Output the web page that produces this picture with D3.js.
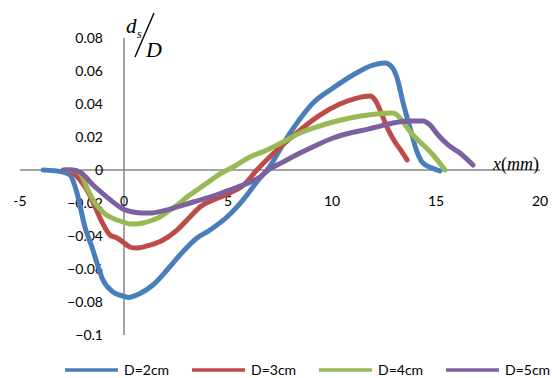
<!DOCTYPE html>
<html lang="en">
<head>
<meta charset="utf-8">
<title>ds/D vs x</title>
<script src="https://cdn.jsdelivr.net/npm/d3@7"></script>
<style>
  body { margin: 0; background: #fff; }
  .tick-label { font-family: Lato, "Open Sans", sans-serif; font-size: 14px; fill: #000; }
  .legend text { font-family: Lato, "Open Sans", sans-serif; font-size: 14px; fill: #000; }
  .eq { font-family: "Liberation Serif", "DejaVu Serif", serif; font-style: italic; fill: #000; }
</style>
</head>
<body>
<script>
// data: [x (mm), ds/D]
var series = ["D=2cm", "D=3cm", "D=4cm", "D=5cm"];
var colors = ["#4a7ebb", "#be4b48", "#98b954", "#7d60a0"];

var d2 = [[-3.89,0],[-2.93,-0.0012],[-2.6,-0.003],[-2.26,-0.0139],[-1.88,-0.0345],[-1.54,-0.0467],
  [-1.3,-0.0564],[-1.01,-0.0667],[-0.53,-0.0739],[-0.05,-0.0764],[0.2,-0.0772],[0.77,-0.0748],
  [1.39,-0.0697],[2.07,-0.0606],[2.69,-0.0515],[3.51,-0.0412],[4.13,-0.0364],[4.95,-0.0285],
  [5.72,-0.0182],[6.54,-0.0048],[6.88,0],[7.98,0.0224],[9.09,0.0406],[10.05,0.0497],
  [11.01,0.0576],[11.97,0.0636],[12.55,0.0648],[12.88,0.0624],[13.13,0.0558],[13.41,0.0412],
  [13.75,0.0255],[14.09,0.0109],[14.37,0.0042],[14.81,0.0012],[15.19,-0.0006]];

var d3cm = [[-2.79,0],[-2.5,-0.0012],[-2.12,-0.006],[-1.78,-0.0121],[-1.39,-0.0224],[-1.06,-0.0315],
  [-0.67,-0.0394],[-0.34,-0.0412],[-0.05,-0.0436],[0.29,-0.0467],[0.63,-0.0473],[1.25,-0.0455],
  [1.88,-0.0424],[2.55,-0.0364],[3.17,-0.0285],[3.65,-0.0224],[4.28,-0.0182],[5.1,-0.0139],
  [5.8,-0.0085],[6.39,0],[7.36,0.0121],[8.46,0.0242],[9.42,0.0333],[10.38,0.04],[11.2,0.0436],
  [11.83,0.0448],[12.07,0.0424],[12.31,0.0364],[12.64,0.0261],[13.03,0.017],[13.37,0.0109],[13.61,0.0061]];

var d4 = [[-2.84,0],[-2.5,0],[-2.12,-0.0018],[-1.73,-0.0121],[-1.39,-0.02],[-1.01,-0.0255],
  [-0.67,-0.0285],[-0.34,-0.0303],[-0.05,-0.0315],[0.29,-0.0327],[0.63,-0.0327],[0.91,-0.0321],
  [1.39,-0.0303],[1.73,-0.0285],[2.21,-0.0242],[2.69,-0.02],[3.03,-0.0164],[3.65,-0.0109],
  [3.99,-0.0079],[4.62,-0.0024],[5.24,0.0018],[6.06,0.0079],[6.88,0.0121],[7.64,0.017],
  [8.46,0.0224],[9.28,0.0261],[10.05,0.0291],[10.87,0.0315],[11.73,0.0333],[12.16,0.0339],
  [12.88,0.0345],[13.13,0.0333],[13.41,0.0291],[13.89,0.0212],[14.38,0.0152],[14.86,0.0091],[15.43,0]];

var d5 = [[-2.93,0],[-2.5,0],[-2.12,-0.0012],[-1.49,-0.0091],[-0.82,-0.0164],[-0.34,-0.0212],
  [-0.05,-0.0236],[0.43,-0.0255],[0.91,-0.0261],[1.25,-0.0261],[1.88,-0.0248],[2.55,-0.0224],
  [3.32,-0.0194],[4.13,-0.0164],[4.95,-0.0127],[5.72,-0.0091],[6.54,-0.0042],[6.88,-0.0006],
  [7.64,0.0048],[8.46,0.0103],[9.28,0.0152],[10.05,0.0194],[10.87,0.0224],[11.73,0.0248],
  [12.16,0.0261],[12.93,0.0285],[13.75,0.0297],[14.38,0.0297],[14.71,0.0273],[15.1,0.0212],
  [15.58,0.0152],[16.15,0.0103],[16.78,0.003]];

var xTicks = [-5, 0, 5, 10, 15, 20];
var yTicks = [-0.1, -0.08, -0.06, -0.04, -0.02, 0, 0.02, 0.04, 0.06, 0.08];
var allData = [d2, d3cm, d4, d5];

var w = 552, h = 378;

var xScale = d3.scaleLinear().domain([-5, 20]).range([20, 540]);
var yScale = d3.scaleLinear().domain([-0.1, 0.08]).range([335, 38]);

var svg = d3.select("body").append("svg")
    .attr("width", w)
    .attr("height", h);

// axes cross at zero
svg.append("line")
   .attr("x1", xScale(-5)).attr("x2", xScale(20))
   .attr("y1", yScale(0)).attr("y2", yScale(0))
   .attr("stroke", "#868686").attr("stroke-width", 1.5);

svg.append("line")
   .attr("x1", xScale(0)).attr("x2", xScale(0))
   .attr("y1", yScale(0.08)).attr("y2", yScale(-0.1))
   .attr("stroke", "#868686").attr("stroke-width", 1.5);

// y tick labels
svg.selectAll(".ylab")
   .data(yTicks)
   .enter()
   .append("text")
   .attr("class", "tick-label")
   .attr("x", 103)
   .attr("y", function(d) { return yScale(d); })
   .attr("dy", "0.35em")
   .attr("text-anchor", "end")
   .text(function(d) { return d === 0 ? "0" : d3.format("")(+d.toFixed(2)); });

// x tick labels
svg.selectAll(".xlab")
   .data(xTicks)
   .enter()
   .append("text")
   .attr("class", "tick-label")
   .attr("x", function(d) { return xScale(d); })
   .attr("y", 206)
   .attr("text-anchor", "middle")
   .text(function(d) { return d; });

// lines
var line = d3.line()
    .x(function(d) { return xScale(d[0]); })
    .y(function(d) { return yScale(d[1]); })
    .curve(d3.curveMonotoneX);

svg.append("g")
   .selectAll("path")
   .data(allData)
   .enter()
   .append("path")
   .attr("d", line)
   .attr("fill", "none")
   .attr("stroke", function(d, i) { return colors[i]; })
   .attr("stroke-width", 5)
   .attr("stroke-linecap", "round")
   .attr("stroke-linejoin", "round");

// axis titles
var yt = svg.append("g");
yt.append("text").attr("class", "eq").attr("x", 126).attr("y", 33).attr("font-size", 21).text("d");
yt.append("text").attr("class", "eq").attr("x", 137).attr("y", 38).attr("font-size", 12).text("s");
yt.append("line")
  .attr("x1", 135).attr("y1", 57).attr("x2", 154).attr("y2", 13)
  .attr("stroke", "#000").attr("stroke-width", 1.4);
yt.append("text").attr("class", "eq").attr("x", 146).attr("y", 57).attr("font-size", 22).text("D");

var xt = svg.append("text").attr("class", "eq").attr("x", 493).attr("y", 170).attr("font-size", 18);
xt.append("tspan").text("x");
xt.append("tspan").attr("font-style", "normal").text("(");
xt.append("tspan").text("mm");
xt.append("tspan").attr("font-style", "normal").text(")");

// legend
var legX = [65, 192, 319, 446];
var legend = svg.append("g").attr("class", "legend");
var items = legend.selectAll("g")
    .data(series)
    .enter()
    .append("g")
    .attr("transform", function(d, i) { return "translate(" + legX[i] + ",370)"; });
items.append("line")
     .attr("x1", 0).attr("x2", 53)
     .attr("stroke", function(d, i) { return colors[i]; })
     .attr("stroke-width", 3.5);
items.append("text")
     .attr("x", 59)
     .attr("dy", "0.35em")
     .text(function(d) { return d; });
</script>
</body>
</html>
